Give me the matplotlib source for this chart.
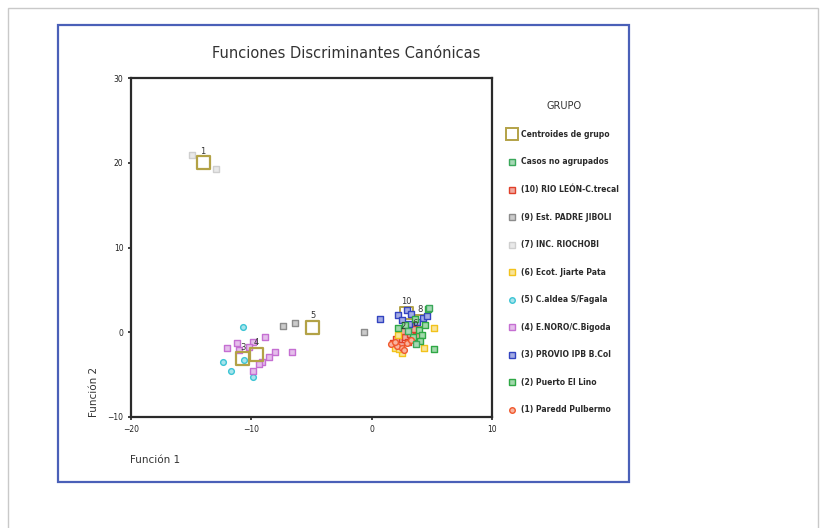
import matplotlib.pyplot as plt
from matplotlib.lines import Line2D
from matplotlib.patches import Rectangle
import matplotlib.colors as mcolors

# group scores on the two canonical discriminant functions
g10_x = [1.8, 2.3, 2.8, 3.2, 2.6, 3.5, 3.0, 2.0, 3.8, 2.4]
g10_y = [-1.3, -1.0, -0.6, -0.2, 0.1, 0.4, -1.2, -0.8, -0.4, -1.5]
g9_x = [-7.4, -6.4, -0.6]
g9_y = [0.75, 1.1, 0.0]
g7_x = [-14.9, -12.9]
g7_y = [20.9, 19.3]
g6_x = [5.2, 4.35, 2.55, 2.2, 1.9, 2.3]
g6_y = [0.5, -1.85, -2.5, -0.35, -1.9, -2.0]
g5_x = [-10.7, -12.35, -11.7, -9.85, -10.6]
g5_y = [0.6, -3.5, -4.6, -5.3, -3.3]
g4_x = [-12.0, -11.2, -9.9, -8.9, -8.05, -6.65, -8.5, -9.1, -9.4, -9.9, -11.0, -10.2]
g4_y = [-1.9, -1.25, -1.1, -0.6, -2.3, -2.3, -2.9, -3.5, -3.7, -4.6, -2.1, -1.7]
g3_x = [0.7, 2.2, 2.9, 4.3, 3.3, 3.75, 2.5, 3.1, 4.6]
g3_y = [1.6, 2.0, 2.6, 1.7, 2.2, 1.25, 1.4, 1.0, 1.9]
g2_x = [4.65, 5.2, 2.2, 3.9, 4.15, 3.4, 4.4, 2.8, 3.6, 4.0]
g2_y = [2.7, -2.0, 0.45, 0.25, -0.35, -0.6, 0.9, 0.8, 1.6, -1.0]
g1_x = [1.6, 2.1, 2.5, 2.9, 1.9, 3.3, 2.7]
g1_y = [-1.4, -1.6, -1.9, -1.3, -1.1, -0.9, -2.1]
ungrouped_x = [4.8, 3.0, 3.7]
ungrouped_y = [2.9, 0.2, -1.4]

centroid_x = [-14.0, -4.9, -9.6, -10.7, 2.9, 2.6, 4.0, 3.6]
centroid_y = [20.0, 0.6, -2.6, -3.1, 2.3, -0.7, 1.3, -0.3]
centroid_lbl = ['1', '5', '4', '3', '10', '2', '8', '6']

labels = ['(10) RIO LEÓN-C.trecal', '(9) Est. PADRE JIBOLI', '(7) INC. RIOCHOBI',
          '(6) Ecot. Jiarte Pata', '(5) C.aldea S/Fagala', '(4) E.NORO/C.Bigoda',
          '(3) PROVIO IPB B.Col', '(2) Puerto El Lino', '(1) Paredd Pulbermo']
colors = ['#e0402a', '#8c8c8c', '#cfcfcf', '#f2c21b', '#3cc4d4',
          '#c56fd2', '#3344c0', '#2fa845', '#f0582c']
markers = ['s', 's', 's', 's', 'o', 's', 's', 's', 'o']
groups = [(g10_x, g10_y), (g9_x, g9_y), (g7_x, g7_y), (g6_x, g6_y), (g5_x, g5_y),
          (g4_x, g4_y), (g3_x, g3_y), (g2_x, g2_y), (g1_x, g1_y)]

centroid_col = '#b3a246'
ungrouped_col = '#3aa85a'


def tint(c, k=0.55):
    r, g, b = mcolors.to_rgb(c)
    return (r + (1 - r) * k, g + (1 - g) * k, b + (1 - b) * k)


fig = plt.figure(figsize=(8.26, 5.28), dpi=100)

# outer page border and blue chart frame
fig.patches.append(Rectangle((8 / 826, -0.05), 810 / 826, 1 - 8 / 528 + 0.05,
                             transform=fig.transFigure, fill=False,
                             ec='#c9c9c9', lw=1.0))
fig.patches.append(Rectangle((58 / 826, 1 - 482 / 528), 571 / 826, 457 / 528,
                             transform=fig.transFigure, fill=False,
                             ec='#4a60b8', lw=1.6))

ax = fig.add_axes([131 / 826, 1 - 417 / 528, 361 / 826, 339 / 528])

ax.scatter(centroid_x[4:], centroid_y[4:], marker='s', s=80, facecolors='none',
           edgecolors=centroid_col, linewidths=1.4, zorder=2)
for (xs, ys), c, m in zip(groups, colors, markers):
    ax.scatter(xs, ys, marker=m, s=17, facecolors=[tint(c)], edgecolors=c,
               linewidths=1.0, zorder=3)
ax.scatter(ungrouped_x, ungrouped_y, marker='s', s=17, facecolors=[tint(ungrouped_col)],
           edgecolors=ungrouped_col, linewidths=1.0, zorder=3)
ax.scatter(centroid_x[:4], centroid_y[:4], marker='s', s=90, facecolors='none',
           edgecolors=centroid_col, linewidths=1.6, zorder=4)
for x, y, t in zip(centroid_x, centroid_y, centroid_lbl):
    ax.annotate(t, (x, y), xytext=(0, 5), textcoords='offset points',
                ha='center', va='bottom', fontsize=6, color='#333333', zorder=5)

ax.set_xlim(-20, 10)
ax.set_ylim(-10, 30)
ax.set_xticks([-20, -10, 0, 10])
ax.set_yticks([-10, 0, 10, 20, 30])
ax.tick_params(direction='out', length=2.5, width=1.2, labelsize=5.5,
               colors='#222222', pad=3)
for sp in ax.spines.values():
    sp.set_color('#2a2a2a')
    sp.set_linewidth(1.6)

fig.text(346 / 826, 1 - 53 / 528, 'Funciones Discriminantes Canónicas',
         ha='center', va='center', fontsize=10.5, color='#333333')
fig.text(130 / 826, 1 - 460 / 528, 'Función 1', ha='left', va='center',
         fontsize=7.5, color='#333333')
fig.text(94 / 826, 1 - 417 / 528, 'Función 2', ha='center', va='bottom',
         rotation=90, fontsize=7.5, color='#333333')

handles = [Line2D([], [], ls='none', marker='s', ms=8, mfc='none',
                  mec=centroid_col, mew=1.4),
           Line2D([], [], ls='none', marker='s', ms=4, mfc=tint(ungrouped_col),
                  mec=ungrouped_col, mew=1.0)]
for c, m in zip(colors, markers):
    handles.append(Line2D([], [], ls='none', marker=m, ms=4, mfc=tint(c),
                          mec=c, mew=1.0))
leg = fig.legend(handles, ['Centroides de grupo', 'Casos no agrupados'] + labels,
                 title='GRUPO', loc='upper left',
                 bbox_to_anchor=(503 / 826, 1 - 96 / 528), frameon=False,
                 fontsize=5.5, title_fontsize=7, labelspacing=2.42,
                 handlelength=1.0, handletextpad=0.7, borderpad=0.2,
                 prop={'size': 5.5, 'weight': 'bold'})
leg.get_title().set_color('#333333')
for t in leg.get_texts():
    t.set_color('#2a2a2a')

fig.savefig('out.png', dpi=100)
